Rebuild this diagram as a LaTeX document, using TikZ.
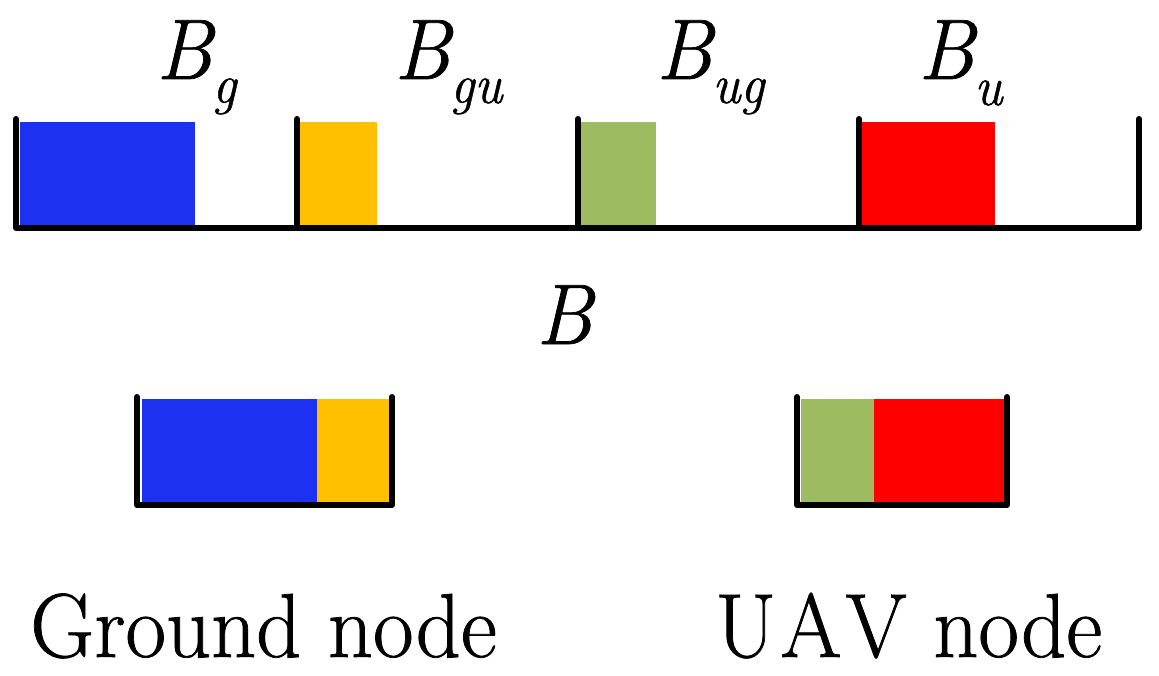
\documentclass[tikz,border=0pt]{standalone}
\usepackage{fontspec}
\newfontfamily\capfont{Latin Modern Roman}[FakeStretch=0.97,FakeBold=0.8]
\newfontfamily\lblfont{Latin Modern Roman}[FakeStretch=0.95,FakeBold=0.8]
\definecolor{cblue}{RGB}{28,50,240}
\definecolor{cyellow}{RGB}{255,192,0}
\definecolor{cgreen}{RGB}{157,187,97}
\definecolor{cred}{RGB}{255,0,0}
\begin{document}
\begin{tikzpicture}[x=1pt,y=-1pt,
  bar/.style={line width=6pt,line cap=round,line join=round},
  lbl/.style={inner sep=0pt,anchor=base west,font=\lblfont\fontsize{86}{86}\selectfont\itshape},
  big/.style={inner sep=0pt,anchor=base west,font=\capfont\fontsize{91}{91}\selectfont}]
\useasboundingbox (0,0) rectangle (1159,676);
% top spectrum
\fill[cblue] (20,122) rectangle (195,226);
\fill[cyellow] (300,122) rectangle (377,226);
\fill[cgreen] (580,122) rectangle (656,226);
\fill[cred] (862,122) rectangle (995,226);
\coordinate (t0) at (16,119);
\coordinate (t1) at (297,119);
\coordinate (t2) at (578,119);
\coordinate (t3) at (859,119);
\coordinate (t4) at (1139,119);
\coordinate (b0) at (16,228);
\coordinate (b1) at (297,228);
\coordinate (b2) at (578,228);
\coordinate (b3) at (859,228);
\coordinate (b4) at (1139,228);
\draw[bar] (t0) -- (b0) -- (b4) -- (t4);
\draw[bar] (t1) -- (b1);
\draw[bar] (t2) -- (b2);
\draw[bar] (t3) -- (b3);
% labels
\node[lbl] (lg) at (156,79) {B\raisebox{-24pt}{\fontsize{56}{56}\selectfont g}};
\node[lbl] (lgu) at (394,79) {B\raisebox{-24pt}{\fontsize{56}{56}\selectfont gu}};
\node[lbl] (lug) at (656,79) {B\raisebox{-24pt}{\fontsize{56}{56}\selectfont ug}};
\node[lbl] (lu) at (918,79) {B\raisebox{-26pt}{\fontsize{56}{56}\selectfont u}};
\node[lbl] (lB) at (536,344) {B};
% ground node box
\fill[cblue] (142,399) rectangle (317,503);
\fill[cyellow] (317,399) rectangle (390,503);
\coordinate (g0) at (137,397);
\coordinate (g1) at (392,397);
\draw[bar] (g0) -- (137,505) -- (392,505) -- (g1);
% UAV node box
\fill[cgreen] (801,399) rectangle (874,503);
\fill[cred] (874,399) rectangle (1005,503);
\coordinate (u0) at (797,397);
\coordinate (u1) at (1007,397);
\draw[bar] (u0) -- (797,505) -- (1007,505) -- (u1);
% captions
\node[big] (gn) at (30,657) {Ground node};
\node[big] (un) at (715,657) {U\kern4pt A\kern4pt V node};
\end{tikzpicture}
\end{document}
